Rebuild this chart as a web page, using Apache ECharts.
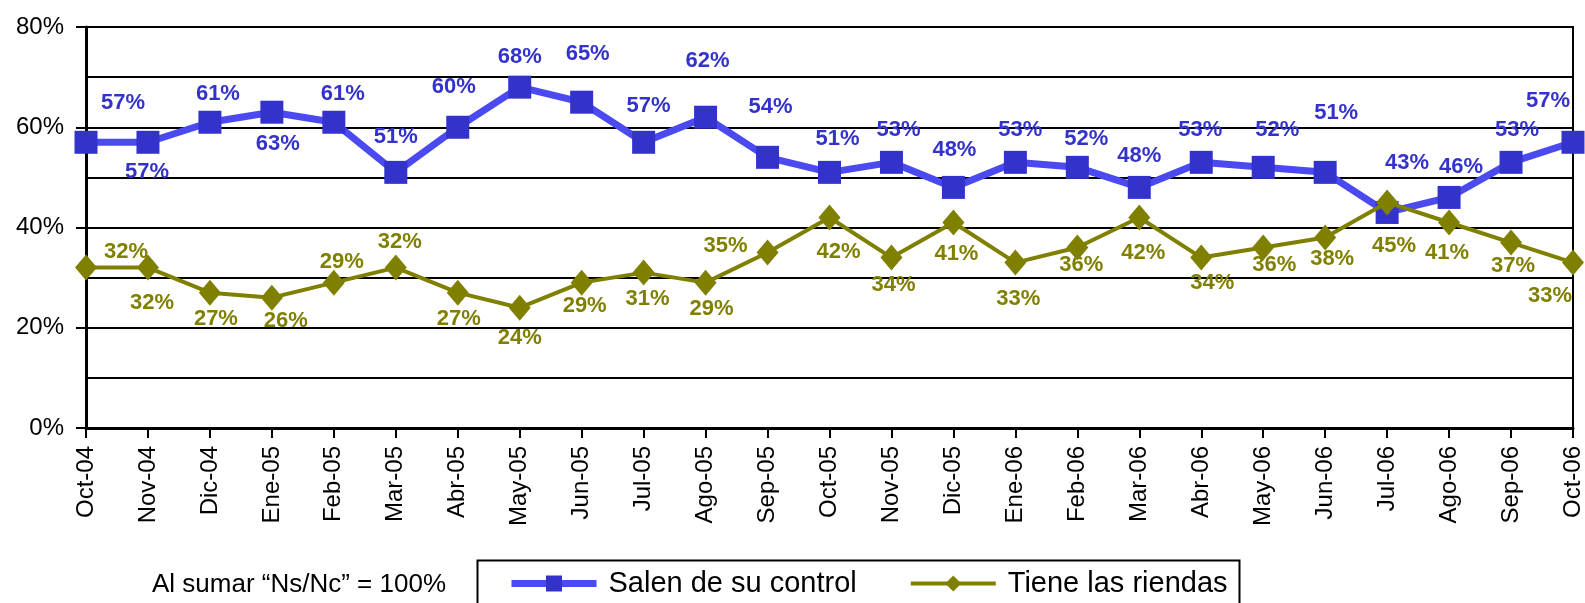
<!DOCTYPE html>
<html>
<head>
<meta charset="utf-8">
<script src="https://cdn.jsdelivr.net/npm/echarts@6/dist/echarts.min.js"></script>
<style>
  html, body { margin: 0; padding: 0; background: #fff; }
  #chart { width: 1585px; height: 603px; }
</style>
</head>
<body>
<div id="chart"></div>
<script>
// meses
var months = ['Oct-04','Nov-04','Dic-04','Ene-05','Feb-05','Mar-05','Abr-05','May-05','Jun-05','Jul-05','Ago-05','Sep-05',
              'Oct-05','Nov-05','Dic-05','Ene-06','Feb-06','Mar-06','Abr-06','May-06','Jun-06','Jul-06','Ago-06','Sep-06','Oct-06'];

// valores (%)
var salen  = [57,57,61,63,61,51,60,68,65,57,62,54,51,53,48,53,52,48,53,52,51,43,46,53,57];
var tiene  = [32,32,27,26,29,32,27,24,29,31,29,35,42,34,41,33,36,42,34,36,38,45,41,37,33];

var yTicks = [0,20,40,60,80];

// desplazamiento de etiquetas [dx, dy] respecto al punto
var salenOff = [[37,-39],[-1,30],[8,-28],[6,32],[9,-28],[0,-35],[-4,-40],[0,-30],[6,-48],[5,-36],[2,-56],[3,-50],
                [8,-33],[7,-32],[1,-37],[5,-32],[9,-28],[0,-31],[-1,-32],[14,-37],[11,-59],[20,-50],[12,-30],[6,-32],[-25,-41]];
var tieneOff = [[40,-16],[4,35],[6,26],[14,23],[8,-21],[4,-26],[1,26],[0,30],[3,23],[4,26],[6,26],[-42,-7],
                [9,34],[2,27],[3,31],[3,36],[4,17],[4,35],[11,25],[11,17],[7,21],[7,43],[-2,30],[2,23],[-23,33]];

function withLabels(vals, offs){
    var res = [];
    for(var i = 0; i < vals.length; i++){
        res.push({ value: vals[i], label: { offset: offs[i] } });
    }
    return res;
}

var chart = echarts.init(document.getElementById('chart'), null, { renderer: 'canvas' });

var option = {
    animation: false,
    backgroundColor: '#fff',
    textStyle: { fontFamily: 'Liberation Sans, Arial, sans-serif' },
    grid: {
        left: 86, right: 9, top: 27, bottom: 175,
        show: true, borderColor: '#000', borderWidth: 2, backgroundColor: 'transparent'
    },
    legend: {
        left: 503, top: 564,
        itemWidth: 85, itemHeight: 20, itemGap: 52,
        textStyle: { fontSize: 29, color: '#000', fontFamily: 'Liberation Sans, Arial, sans-serif', padding: [0,0,0,7] },
        data: [
            { name: 'Salen de su control', lineStyle: { width: 7, color: '#4a4af0' } },
            { name: 'Tiene las riendas', lineStyle: { width: 4, color: '#808000' } }
        ]
    },
    graphic: [
        { type: 'rect', left: 475, top: 558, shape: { width: 762, height: 60 },
          style: { fill: 'none', stroke: '#000', lineWidth: 2 }, z: 10 },
        { type: 'text', left: 152, top: 572,
          style: { text: 'Al sumar \u201cNs/Nc\u201d = 100%', fontSize: 26, fill: '#000', fontFamily: 'Liberation Sans, Arial, sans-serif' } }
    ],
    xAxis: {
        type: 'category',
        data: months,
        boundaryGap: false,
        axisLine: { lineStyle: { color: '#000', width: 3 } },
        axisTick: { show: true, alignWithLabel: true, length: 10, lineStyle: { color: '#000', width: 2 } },
        axisLabel: { rotate: 90, fontSize: 24, color: '#000', margin: 18, interval: 0 },
        splitLine: { show: false }
    },
    yAxis: {
        type: 'value',
        min: 0, max: 80, interval: 20,
        axisLine: { show: true, lineStyle: { color: '#000', width: 3 } },
        axisTick: { show: true, length: 10, lineStyle: { color: '#000', width: 2 } },
        axisLabel: {
            fontSize: 24, color: '#000', margin: 22,
            formatter: function(v){ return yTicks.indexOf(v) >= 0 ? v + '%' : ''; }
        },
        splitLine: { show: true, lineStyle: { color: '#000', width: 2 } },
        minorTick: { show: false, splitNumber: 2 },
        minorSplitLine: { show: true, lineStyle: { color: '#000', width: 2 } }
    },
    series: [
        {
            name: 'Salen de su control',
            type: 'line',
            data: withLabels(salen, salenOff),
            symbol: 'rect',
            symbolSize: 23,
            itemStyle: { color: '#3333cc' },
            lineStyle: { color: '#4a4af0', width: 7 },
            label: {
                show: true, position: 'inside',
                formatter: '{c}%',
                fontSize: 22, fontWeight: 'bold', color: '#3333cc'
            },
            z: 3
        },
        {
            name: 'Tiene las riendas',
            type: 'line',
            data: withLabels(tiene, tieneOff),
            symbol: 'diamond',
            symbolSize: [22, 26],
            itemStyle: { color: '#808000' },
            lineStyle: { color: '#808000', width: 4 },
            label: {
                show: true, position: 'inside',
                formatter: '{c}%',
                fontSize: 22, fontWeight: 'bold', color: '#808000'
            },
            z: 4
        }
    ]
};

chart.setOption(option);
</script>
</body>
</html>
